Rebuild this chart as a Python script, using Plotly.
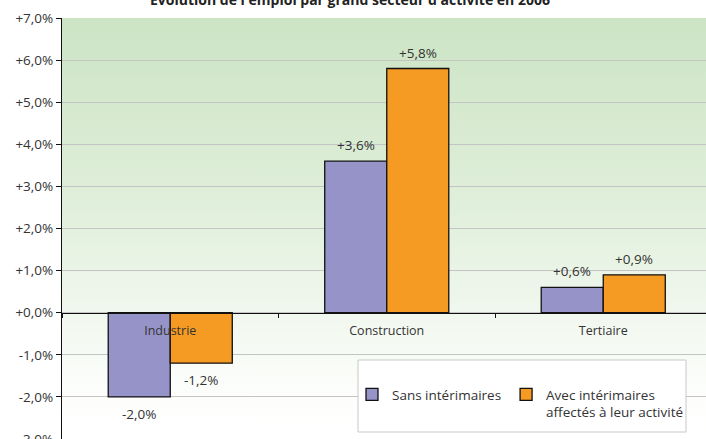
import plotly.graph_objects as go
import base64

# ---- data ----
categories = ["Industrie", "Construction", "Tertiaire"]
series_names = ["Sans intérimaires", "Avec intérimaires<br>affectés à leur activité"]
sans_interim = [-2.0, 3.6, 0.6]
avec_interim = [-1.2, 5.8, 0.9]
value_labels_sans = ["-2,0%", "+3,6%", "+0,6%"]
value_labels_avec = ["-1,2%", "+5,8%", "+0,9%"]
tick_vals = [-3, -2, -1, 0, 1, 2, 3, 4, 5, 6, 7]
tick_labels = ["-3,0%", "-2,0%", "-1,0%", "+0,0%", "+1,0%", "+2,0%", "+3,0%",
               "+4,0%", "+5,0%", "+6,0%", "+7,0%"]
title_text = "Évolution de l'emploi par grand secteur d'activité en 2006"

colors = ["#9593c8", "#f59a22"]
FONT = "Open Sans"
W, H = 706, 439
ML, MT = 62, 18
plot_w = W - ML
plot_h = H - MT
cat_px = 216.5

fig = go.Figure()
for name, vals, col in zip(series_names, [sans_interim, avec_interim], colors):
    fig.add_trace(go.Bar(
        x=categories, y=vals, name=name,
        marker=dict(color=col, line=dict(color="#111111", width=1.3)),
        hoverinfo="skip",
    ))

# data labels
bar_px = cat_px * (1 - 0.427) / 2
for labels, vals, sign in [(value_labels_sans, sans_interim, -1), (value_labels_avec, avec_interim, 1)]:
    for c, v, t in zip(categories, vals, labels):
        fig.add_annotation(
            x=c, y=v, text=t, showarrow=False,
            xshift=sign * bar_px / 2,
            yshift=16 if v >= 0 else -17,
            yanchor="middle",
            font=dict(family=FONT, size=13.5, color="#333333"),
        )

# title (mostly cut at the top, as in the source image)
fig.add_annotation(
    xref="paper", yref="paper", x=(350 - ML) / plot_w, y=(H + 1) / plot_h,
    text="<b>" + title_text + "</b>", showarrow=False, yanchor="middle",
    font=dict(family=FONT, size=14, color="#222222"),
)

# gradient background
svg = ('<svg xmlns="http://www.w3.org/2000/svg" width="100" height="100" preserveAspectRatio="none">'
       '<defs><linearGradient id="g" x1="0" y1="0" x2="0" y2="1">'
       '<stop offset="0" stop-color="#cce4c4"/>'
       '<stop offset="0.45" stop-color="#e0efdb"/>'
       '<stop offset="0.72" stop-color="#f2f8f0"/>'
       '<stop offset="0.9" stop-color="#fdfefc"/>'
       '<stop offset="1" stop-color="#ffffff"/>'
       '</linearGradient></defs><rect width="100" height="100" fill="url(#g)"/></svg>')
uri = "data:image/svg+xml;base64," + base64.b64encode(svg.encode()).decode()
fig.add_layout_image(dict(source=uri, xref="paper", yref="paper", x=0, y=1,
                          sizex=1, sizey=1, sizing="stretch", layer="below",
                          xanchor="left", yanchor="top"))

# legend box
fig.add_shape(type="rect", xref="paper", yref="paper",
              x0=(358 - ML) / plot_w, x1=(686 - ML) / plot_w,
              y0=(H - 432) / plot_h, y1=(H - 360) / plot_h,
              fillcolor="white", line=dict(color="#c8c8c8", width=1), layer="above")

fig.update_layout(
    template="none",
    width=W, height=H,
    margin=dict(l=ML, r=0, t=MT, b=0, pad=0, autoexpand=False),
    paper_bgcolor="white", plot_bgcolor="rgba(0,0,0,0)",
    barmode="group", bargap=0.427, bargroupgap=0,
    font=dict(family=FONT, size=12, color="#333333"),
    showlegend=True,
    legend=dict(
        orientation="h", x=(352 - ML) / plot_w, y=(H - 379) / plot_h,
        xanchor="left", yanchor="top", bgcolor="rgba(0,0,0,0)",
        font=dict(family=FONT, size=13.5, color="#333333"),
        valign="top", traceorder="normal", itemwidth=30,
    ),
    xaxis=dict(
        type="category", range=[-0.5, -0.5 + plot_w / cat_px],
        anchor="free", position=0.3, automargin=False,
        showline=True, linecolor="#111111", linewidth=1,
        ticks="outside", tickson="boundaries", ticklen=4, tickcolor="#111111",
        showgrid=False, ticklabelstandoff=6,
        tickfont=dict(family=FONT, size=12.5, color="#333333"),
        fixedrange=True,
    ),
    yaxis=dict(
        range=[-3, 7], tickvals=tick_vals, ticktext=tick_labels, automargin=False,
        ticklabeloverflow="allow",
        showline=True, linecolor="#111111", linewidth=1.2,
        ticks="outside", ticklen=5, tickcolor="#111111",
        showgrid=True, gridcolor="#c4c4c4", gridwidth=1.2, zeroline=False,
        tickfont=dict(family=FONT, size=13.5, color="#333333"),
        fixedrange=True,
    ),
)

fig.write_html("out.html", config={"displayModeBar": False},
               post_script="document.body.style.margin='0';document.body.style.overflow='hidden';")
